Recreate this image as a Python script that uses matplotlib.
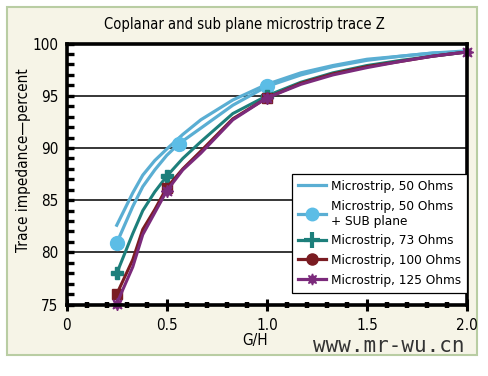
"""Coplanar and sub plane microstrip trace Z."""
import matplotlib
matplotlib.use('Agg')
import matplotlib.pyplot as plt
from matplotlib.lines import Line2D
from matplotlib.patches import Rectangle
from matplotlib.ticker import MultipleLocator

plt.rcParams['font.family'] = ['Liberation Sans Narrow', 'DejaVu Sans']
plt.rcParams['font.stretch'] = 'condensed'

# G/H sample positions
gh = [0.25, 0.33, 0.38, 0.44, 0.5, 0.58, 0.67, 0.83, 1.0, 1.17, 1.33, 1.5, 1.67, 1.83, 2.0]
gh_sub = [0.25, 0.33, 0.38, 0.44, 0.5, 0.56, 0.67, 0.83, 1.0, 1.17, 1.33, 1.5, 1.67, 1.83, 2.0]

z50 = [82.6, 85.7, 87.4, 88.8, 89.9, 91.3, 92.7, 94.6, 96.1, 97.2, 97.9, 98.5, 98.8, 99.1, 99.2]
z50_sub = [80.9, 84.4, 86.3, 87.9, 89.3, 90.4, 91.9, 94.1, 95.9, 97.0, 97.8, 98.4, 98.8, 99.1, 99.3]
z73 = [78.0, 81.8, 84.0, 85.8, 87.3, 89.0, 90.6, 93.3, 95.0, 96.3, 97.2, 97.9, 98.4, 98.8, 99.2]
z100 = [76.0, 79.3, 82.2, 84.1, 86.2, 88.0, 89.7, 92.8, 94.8, 96.2, 97.1, 97.8, 98.3, 98.8, 99.2]
z125 = [75.1, 78.6, 81.7, 83.8, 85.9, 87.9, 89.5, 92.7, 94.8, 96.1, 97.0, 97.7, 98.3, 98.8, 99.2]

xticks = [0, 0.5, 1.0, 1.5, 2.0]
xtick_labels = ['0', '0.5', '1.0', '1.5', '2.0']

labels = ['Microstrip, 50 Ohms', 'Microstrip, 50 Ohms\n+ SUB plane',
          'Microstrip, 73 Ohms', 'Microstrip, 100 Ohms', 'Microstrip, 125 Ohms']

BLUE = '#5aaed3'
CIRCLE = '#5cbde6'
TEAL = '#1d7f7b'
RED = '#7a1c22'
PURPLE = '#7b2a7b'
CREAM = '#f6f4e7'

fig = plt.figure(figsize=(4.88, 3.76), dpi=100, facecolor='white')
fig.patches.append(Rectangle((7 / 488, 1 - 355 / 376), 470 / 488, 348 / 376,
                             transform=fig.transFigure, facecolor=CREAM,
                             edgecolor='#b9cda3', lw=1.5, zorder=-10))

ax = fig.add_axes([0.1367, 0.19, 0.8203, 0.694])
ax.set_facecolor('white')
ax.set_xlim(0, 2.0)
ax.set_ylim(75, 100)

for y in (80, 85, 90, 95):
    ax.axhline(y, color='black', lw=1.1, zorder=1)

mark_main = [0, 4, 8, 14]
ax.plot(gh, z50, color=BLUE, lw=2.3, zorder=3)
ax.plot(gh_sub, z50_sub, color=BLUE, lw=2.3, zorder=3)
ax.plot(gh_sub, z50_sub, ls='none', marker='o', ms=10, color=CIRCLE,
        markevery=[0, 5, 8], zorder=4, clip_on=False)
ax.plot(gh, z73, color=TEAL, lw=2.2, marker='P', ms=8, markevery=[0, 4, 8],
        zorder=5, clip_on=False)
ax.plot(gh, z100, color=RED, lw=2.2, marker='s', ms=7, markevery=[0, 4, 8],
        zorder=6, clip_on=False)
ax.plot(gh, z125, color=PURPLE, lw=2.2, marker=(8, 1, 0), ms=9, markevery=mark_main,
        zorder=7, clip_on=False)

for side in ax.spines.values():
    side.set_linewidth(2.6)
    side.set_zorder(8)

ax.set_xticks(xticks, xtick_labels)
ax.xaxis.set_minor_locator(MultipleLocator(0.1))
ax.yaxis.set_major_locator(MultipleLocator(5))
ax.yaxis.set_minor_locator(MultipleLocator(1))
ax.tick_params(axis='x', which='major', direction='inout', length=9, width=2.2,
               labelsize=11, pad=5)
ax.tick_params(axis='x', which='minor', direction='inout', length=4, width=3.2)
ax.tick_params(axis='y', which='both', direction='in', length=5, width=2.4,
               labelsize=11, pad=6)

ax.set_ylabel('Trace impedance\u2014percent', fontsize=11)
ax.yaxis.set_label_coords(-0.09, 0.553)
fig.text(255 / 488, 1 - 340 / 376, 'G/H', ha='center', va='center', fontsize=11)
fig.text(0.5, 1 - 24 / 376, 'Coplanar and sub plane microstrip trace Z',
         ha='center', va='center', fontsize=10.5)
fig.text(0.951, 1 - 346 / 376, 'www.mr-wu.cn', ha='right', va='center',
         fontsize=15, family='DejaVu Sans Mono', stretch='normal', color='#333333')

handles = [
    Line2D([], [], color=BLUE, lw=2.3),
    Line2D([], [], color=BLUE, lw=2.3, marker='o', ms=9, mfc=CIRCLE, mec=CIRCLE),
    Line2D([], [], color=TEAL, lw=2.3, marker='+', ms=11, mew=3),
    Line2D([], [], color=RED, lw=2.3, marker='o', ms=8),
    Line2D([], [], color=PURPLE, lw=2.3, marker=(8, 1, 0), ms=8),
]
leg = ax.legend(handles, labels, loc='lower right', bbox_to_anchor=(1.0, 0.045),
                fontsize=9.7, frameon=True, fancybox=False, framealpha=1,
                edgecolor='black', handlelength=2.1, labelspacing=0.5,
                borderpad=0.45, handletextpad=0.35, borderaxespad=0)
leg.get_frame().set_linewidth(0.9)
leg.set_zorder(9)

plt.savefig('out.png', format='png', dpi=100)
